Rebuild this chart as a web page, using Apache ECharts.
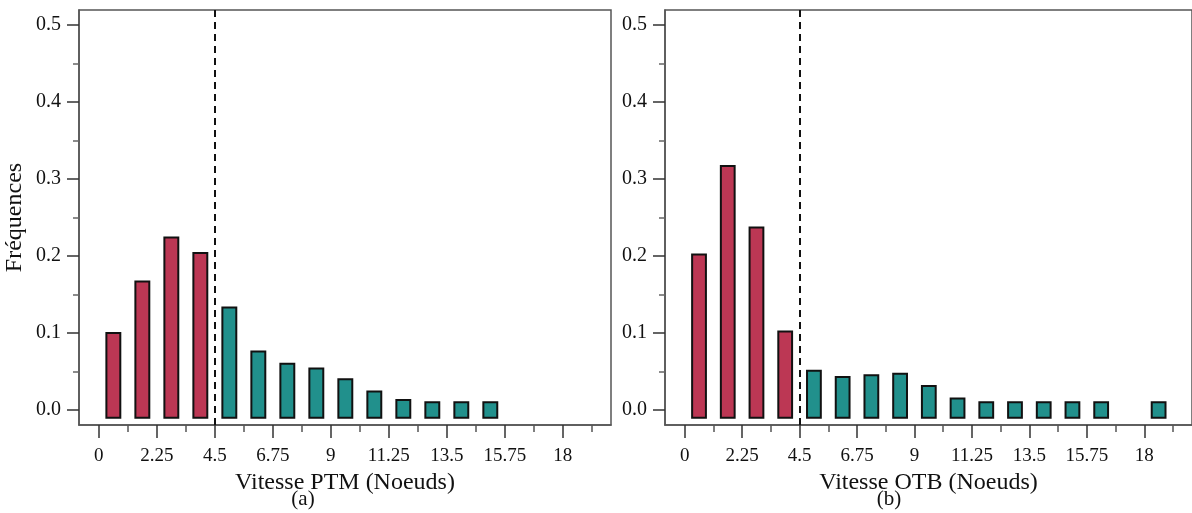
<!DOCTYPE html>
<html>
<head>
<meta charset="utf-8">
<script src="https://cdn.jsdelivr.net/npm/echarts@6/dist/echarts.min.js"></script>
<style>
html,body{margin:0;padding:0;background:#fff;}
#chart{width:1192px;height:513px;}
</style>
</head>
<body>
<div id="chart"></div>
<script>
// ---- data ----
const binCentersPTM = [0.5625, 1.6875, 2.8125, 3.9375, 5.0625, 6.1875, 7.3125, 8.4375, 9.5625, 10.6875, 11.8125, 12.9375, 14.0625, 15.1875];
const freqPTM       = [0.100, 0.167, 0.224, 0.204, 0.133, 0.076, 0.060, 0.054, 0.040, 0.024, 0.013, 0.010, 0.010, 0.010];
const binCentersOTB = [0.5625, 1.6875, 2.8125, 3.9375, 5.0625, 6.1875, 7.3125, 8.4375, 9.5625, 10.6875, 11.8125, 12.9375, 14.0625, 15.1875, 16.3125, 17.4375, 18.5625];
const freqOTB       = [0.202, 0.317, 0.237, 0.102, 0.051, 0.043, 0.045, 0.047, 0.031, 0.015, 0.010, 0.010, 0.010, 0.010, 0.010, 0, 0.010];
const xMajorTicks = [0, 2.25, 4.5, 6.75, 9, 11.25, 13.5, 15.75, 18];
const xMinorTicks = [1.125, 3.375, 5.625, 7.875, 10.125, 12.375, 14.625, 16.875, 19.125];
const yMajorTicks = [0, 0.1, 0.2, 0.3, 0.4, 0.5];
const yMinorTicks = [0.05, 0.15, 0.25, 0.35, 0.45];
const threshold = 4.5;
const xTitles = ['Vitesse PTM (Noeuds)', 'Vitesse OTB (Noeuds)'];
const panelTags = ['(a)', '(b)'];
const yTitle = 'Fréquences';

// ---- style ----
const FONT = '"Liberation Serif", "Times New Roman", serif';
const RED = '#BC3754';
const TEAL = '#21908C';
const BAR_BASE = -0.01;
const BAR_W = 0.54;
const X_MIN = -0.77, X_MAX = 19.87;
const Y_MIN = -0.0195, Y_MAX = 0.5195;

const grids = [
  {left: 79, top: 10, width: 532, height: 415},
  {left: 665, top: 10, width: 532, height: 415}
];

function renderBar(params, api) {
  const x = api.value(0), v = api.value(1);
  if (!v) return null;
  const top = api.coord([x, v]);
  const base = api.coord([x, BAR_BASE]);
  const w = api.size([BAR_W, 0])[0];
  return {
    type: 'rect',
    shape: {x: top[0] - w / 2, y: top[1], width: w, height: base[1] - top[1]},
    style: {fill: x < threshold ? RED : TEAL, stroke: '#111', lineWidth: 2}
  };
}

const xAxes = [], yAxes = [], series = [];
[0, 1].forEach(function (g) {
  xAxes.push({
    gridIndex: g, type: 'value', min: X_MIN, max: X_MAX, position: 'bottom',
    axisLine: {show: true, onZero: false, lineStyle: {color: '#555', width: 1.5}},
    axisTick: {show: true, length: 13, customValues: xMajorTicks, lineStyle: {color: '#333', width: 1.5}},
    axisLabel: {show: true, customValues: xMajorTicks, margin: 22, color: '#111', fontFamily: FONT, fontSize: 19,
      formatter: function (v) { return String(v); }},
    splitLine: {show: false},
    name: xTitles[g], nameLocation: 'middle', nameGap: 42,
    nameTextStyle: {fontFamily: FONT, fontSize: 24, color: '#111'}
  });
  xAxes.push({
    gridIndex: g, type: 'value', min: X_MIN, max: X_MAX, position: 'bottom', offset: 0,
    axisLine: {show: false, onZero: false},
    axisTick: {show: true, length: 7, customValues: xMinorTicks, lineStyle: {color: '#555', width: 1.5}},
    axisLabel: {show: false},
    splitLine: {show: false}
  });
  yAxes.push({
    gridIndex: g, type: 'value', min: Y_MIN, max: Y_MAX, position: 'left',
    axisLine: {show: true, onZero: false, lineStyle: {color: '#555', width: 1.5}},
    axisTick: {show: true, length: 12, customValues: yMajorTicks, lineStyle: {color: '#333', width: 1.5}},
    axisLabel: {show: true, customValues: yMajorTicks, margin: 18, color: '#111', fontFamily: FONT, fontSize: 20,
      formatter: function (v) { return v.toFixed(1); }},
    splitLine: {show: false},
    name: g === 0 ? yTitle : '', nameLocation: 'middle', nameGap: 52,
    nameTextStyle: {fontFamily: FONT, fontSize: 24, color: '#111'}
  });
  yAxes.push({
    gridIndex: g, type: 'value', min: Y_MIN, max: Y_MAX, position: 'left', offset: 0,
    axisLine: {show: false, onZero: false},
    axisTick: {show: true, length: 6, customValues: yMinorTicks, lineStyle: {color: '#666', width: 1.5}},
    axisLabel: {show: false},
    splitLine: {show: false}
  });
  const centers = g === 0 ? binCentersPTM : binCentersOTB;
  const freqs = g === 0 ? freqPTM : freqOTB;
  series.push({
    type: 'custom', xAxisIndex: g * 2, yAxisIndex: g * 2,
    data: centers.map(function (c, i) { return [c, freqs[i]]; }),
    renderItem: renderBar, animation: false, silent: true, z: 3,
    markLine: {
      silent: true, symbol: 'none', animation: false,
      label: {show: false},
      lineStyle: {color: '#111', width: 2, type: [7, 5]},
      data: [{xAxis: threshold}]
    }
  });
});

const chart = echarts.init(document.getElementById('chart'), null, {renderer: 'canvas'});
chart.setOption({
  backgroundColor: '#fff',
  animation: false,
  grid: grids.map(function (gr) {
    return Object.assign({show: true, borderColor: '#555', borderWidth: 1.5, backgroundColor: 'transparent', containLabel: false}, gr);
  }),
  xAxis: xAxes,
  yAxis: yAxes,
  series: series,
  graphic: [
    {type: 'text', x: 303, y: 489, style: {text: panelTags[0], font: '21px ' + FONT, fill: '#111', align: 'center', textAlign: 'center'}},
    {type: 'text', x: 889, y: 489, style: {text: panelTags[1], font: '21px ' + FONT, fill: '#111', align: 'center', textAlign: 'center'}}
  ]
});
</script>
</body>
</html>
